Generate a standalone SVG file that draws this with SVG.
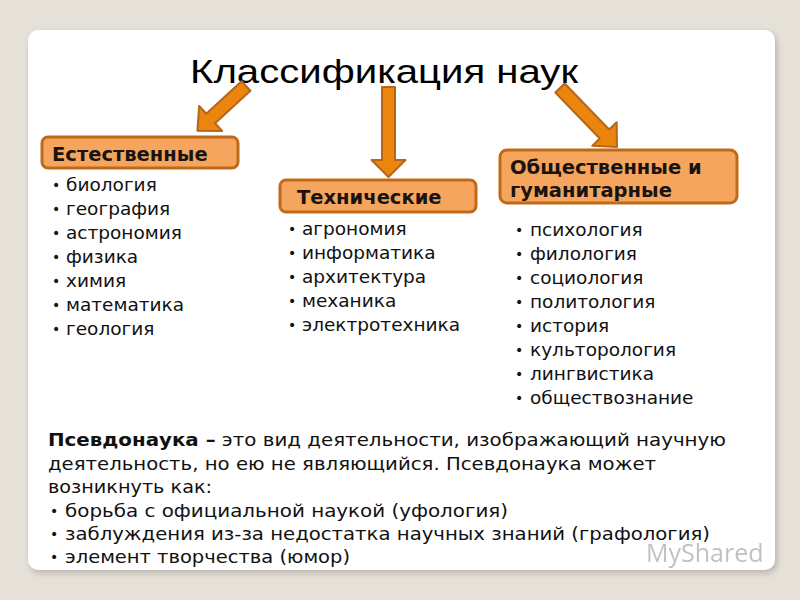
<svg xmlns="http://www.w3.org/2000/svg" width="800" height="600" viewBox="0 0 800 600">
<defs>
<style>
.box{fill:#f5a55e;stroke:#c06a18;stroke-width:3}
.hd{font-family:"DejaVu Sans",Verdana,sans-serif;font-weight:bold;font-size:19.5px;fill:#1a1410}
.li{font-family:"DejaVu Sans",Verdana,sans-serif;font-size:18.5px;fill:#111}
.bl{font-family:"DejaVu Sans",Verdana,sans-serif;font-size:14px;fill:#111}
.bt{font-family:"DejaVu Sans",Verdana,sans-serif;font-size:17px;fill:#111}
.arr{fill:#ec850e;stroke:#b5661a;stroke-width:2;stroke-linejoin:round}
</style>
<filter id="sh" x="-5%" y="-5%" width="110%" height="110%">
<feGaussianBlur stdDeviation="3"/>
</filter>
</defs>
<rect width="800" height="600" fill="#e6e1d8"/>
<rect x="30" y="33" width="747" height="540" rx="10" fill="#9a958d" opacity="0.6" filter="url(#sh)"/>
<rect x="28" y="30" width="747" height="540" rx="10" fill="#ffffff"/>

<g id="title">
<text x="190" y="83" font-family="'Liberation Sans',Arial,sans-serif" font-size="33" textLength="388" lengthAdjust="spacingAndGlyphs" fill="#000">Классификация наук</text>
</g>

<g id="connectors">
<path class="arr" transform="translate(246,86) rotate(47.4)" d="M-6.5,0 L6.5,0 L6.5,48 L17,48 L0,66 L-17,48 L-6.5,48 Z"/>
<path class="arr" transform="translate(388.5,87)" d="M-6.5,0 L6.5,0 L6.5,73 L17,73 L0,90 L-17,73 L-6.5,73 Z"/>
<path class="arr" transform="translate(560,88) rotate(-44)" d="M-6.5,0 L6.5,0 L6.5,64 L17,64 L0,82 L-17,64 L-6.5,64 Z"/>
</g>

<g id="natural">
<rect class="box" x="42" y="137" width="196" height="31" rx="6"/>
<text class="hd" x="52" y="161">Естественные</text>
<g class="li">
<text class="bl" x="52" y="190">•</text><text x="66" y="191">биология</text>
<text class="bl" x="52" y="214">•</text><text x="66" y="215">география</text>
<text class="bl" x="52" y="238">•</text><text x="66" y="239">астрономия</text>
<text class="bl" x="52" y="262">•</text><text x="66" y="263">физика</text>
<text class="bl" x="52" y="286">•</text><text x="66" y="287">химия</text>
<text class="bl" x="52" y="310">•</text><text x="66" y="311">математика</text>
<text class="bl" x="52" y="334">•</text><text x="66" y="335">геология</text>
</g>
</g>

<g id="technical">
<rect class="box" x="280" y="180" width="196" height="32" rx="6"/>
<text class="hd" x="297" y="204">Технические</text>
<g class="li">
<text class="bl" x="288" y="234">•</text><text x="302" y="235">агрономия</text>
<text class="bl" x="288" y="258">•</text><text x="302" y="259">информатика</text>
<text class="bl" x="288" y="282">•</text><text x="302" y="283">архитектура</text>
<text class="bl" x="288" y="306">•</text><text x="302" y="307">механика</text>
<text class="bl" x="288" y="330">•</text><text x="302" y="331">электротехника</text>
</g>
</g>

<g id="social">
<rect class="box" x="500" y="150" width="237" height="53" rx="7"/>
<text class="hd" x="510" y="174">Общественные и</text>
<text class="hd" x="510" y="197">гуманитарные</text>
<g class="li">
<text class="bl" x="515" y="235">•</text><text x="530" y="236">психология</text>
<text class="bl" x="515" y="259">•</text><text x="530" y="260">филология</text>
<text class="bl" x="515" y="283">•</text><text x="530" y="284">социология</text>
<text class="bl" x="515" y="307">•</text><text x="530" y="308">политология</text>
<text class="bl" x="515" y="331">•</text><text x="530" y="332">история</text>
<text class="bl" x="515" y="355">•</text><text x="530" y="356">культорология</text>
<text class="bl" x="515" y="379">•</text><text x="530" y="380">лингвистика</text>
<text class="bl" x="515" y="403">•</text><text x="530" y="404">обществознание</text>
</g>
</g>

<g id="pseudo">
<text class="bt" x="48" y="446" textLength="678" lengthAdjust="spacingAndGlyphs"><tspan font-weight="bold">Псевдонаука –</tspan> это вид деятельности, изображающий научную</text>
<text class="bt" x="48" y="470" textLength="608" lengthAdjust="spacingAndGlyphs">деятельность, но ею не являющийся. Псевдонаука может</text>
<text class="bt" x="48" y="493" textLength="164" lengthAdjust="spacingAndGlyphs">возникнуть как:</text>
<text class="bl" x="50" y="516">•</text>
<text class="bt" x="65" y="517" textLength="443" lengthAdjust="spacingAndGlyphs">борьба с официальной наукой (уфология)</text>
<text class="bl" x="50" y="539">•</text>
<text class="bt" x="65" y="540" textLength="645" lengthAdjust="spacingAndGlyphs">заблуждения из-за недостатка научных знаний (графология)</text>
<text class="bl" x="50" y="562">•</text>
<text class="bt" x="65" y="563" textLength="285" lengthAdjust="spacingAndGlyphs">элемент творчества (юмор)</text>
</g>

<g id="watermark" opacity="0.45">
<text x="646" y="562" font-family="'Open Sans','DejaVu Sans',sans-serif" font-size="25" fill="#777">MyShared</text>
</g>
</svg>
